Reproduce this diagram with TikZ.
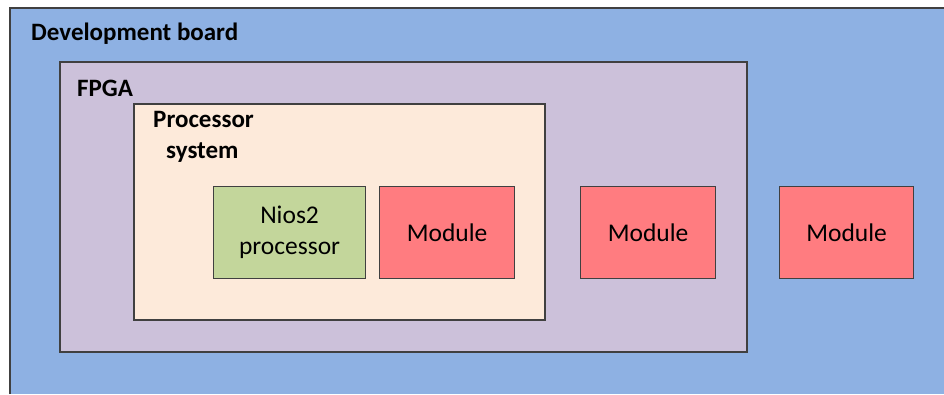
\documentclass[tikz,border=0pt]{standalone}
\usepackage{fontspec}
\setmainfont{Carlito}
\definecolor{boardblue}{HTML}{8EB1E3}
\definecolor{fpgalav}{HTML}{CCC1DA}
\definecolor{procpeach}{HTML}{FDEADA}
\definecolor{niosgreen}{HTML}{C3D69B}
\definecolor{modred}{HTML}{FF7C80}
\definecolor{edge}{HTML}{404040}
\begin{document}
\begin{tikzpicture}[x=1pt,y=-1pt,
  box/.style={draw=edge,line width=1.2pt},
  blk/.style={box,inner sep=0pt,anchor=north west,font=\fontsize{25.5}{31}\selectfont,align=center},
  ttl/.style={anchor=base west,inner sep=0pt,font=\bfseries\fontsize{25}{31}\selectfont}]
\useasboundingbox (0,0) rectangle (944,394);
\fill[white] (0,0) rectangle (944,394);
\path[fill=boardblue] (10,8) rectangle (944,394);
\draw[edge,line width=1.2pt] (10,394) -- (10,8) -- (944,8);
\path[box,fill=fpgalav] (60,62) rectangle (747,352);
\path[box,fill=procpeach] (134,104) rectangle (545,320);
\node[blk,fill=niosgreen,minimum width=152pt,minimum height=92pt] (nios) at (213,186) {Nios2\\processor};
\node[blk,fill=modred,minimum width=135pt,minimum height=92pt] (m1) at (379,186) {Module};
\node[blk,fill=modred,minimum width=135pt,minimum height=92pt] (m2) at (580,186) {Module};
\node[blk,fill=modred,minimum width=134pt,minimum height=92pt] (m3) at (779,186) {Module};
\node[ttl] (tb) at (31,40.5) {Development board};
\node[ttl] (tf) at (77,96.5) {FPGA};
\node[ttl] (tp1) at (153,127) {Processor};
\node[ttl] (tp2) at (166,158) {system};
\end{tikzpicture}
\end{document}
